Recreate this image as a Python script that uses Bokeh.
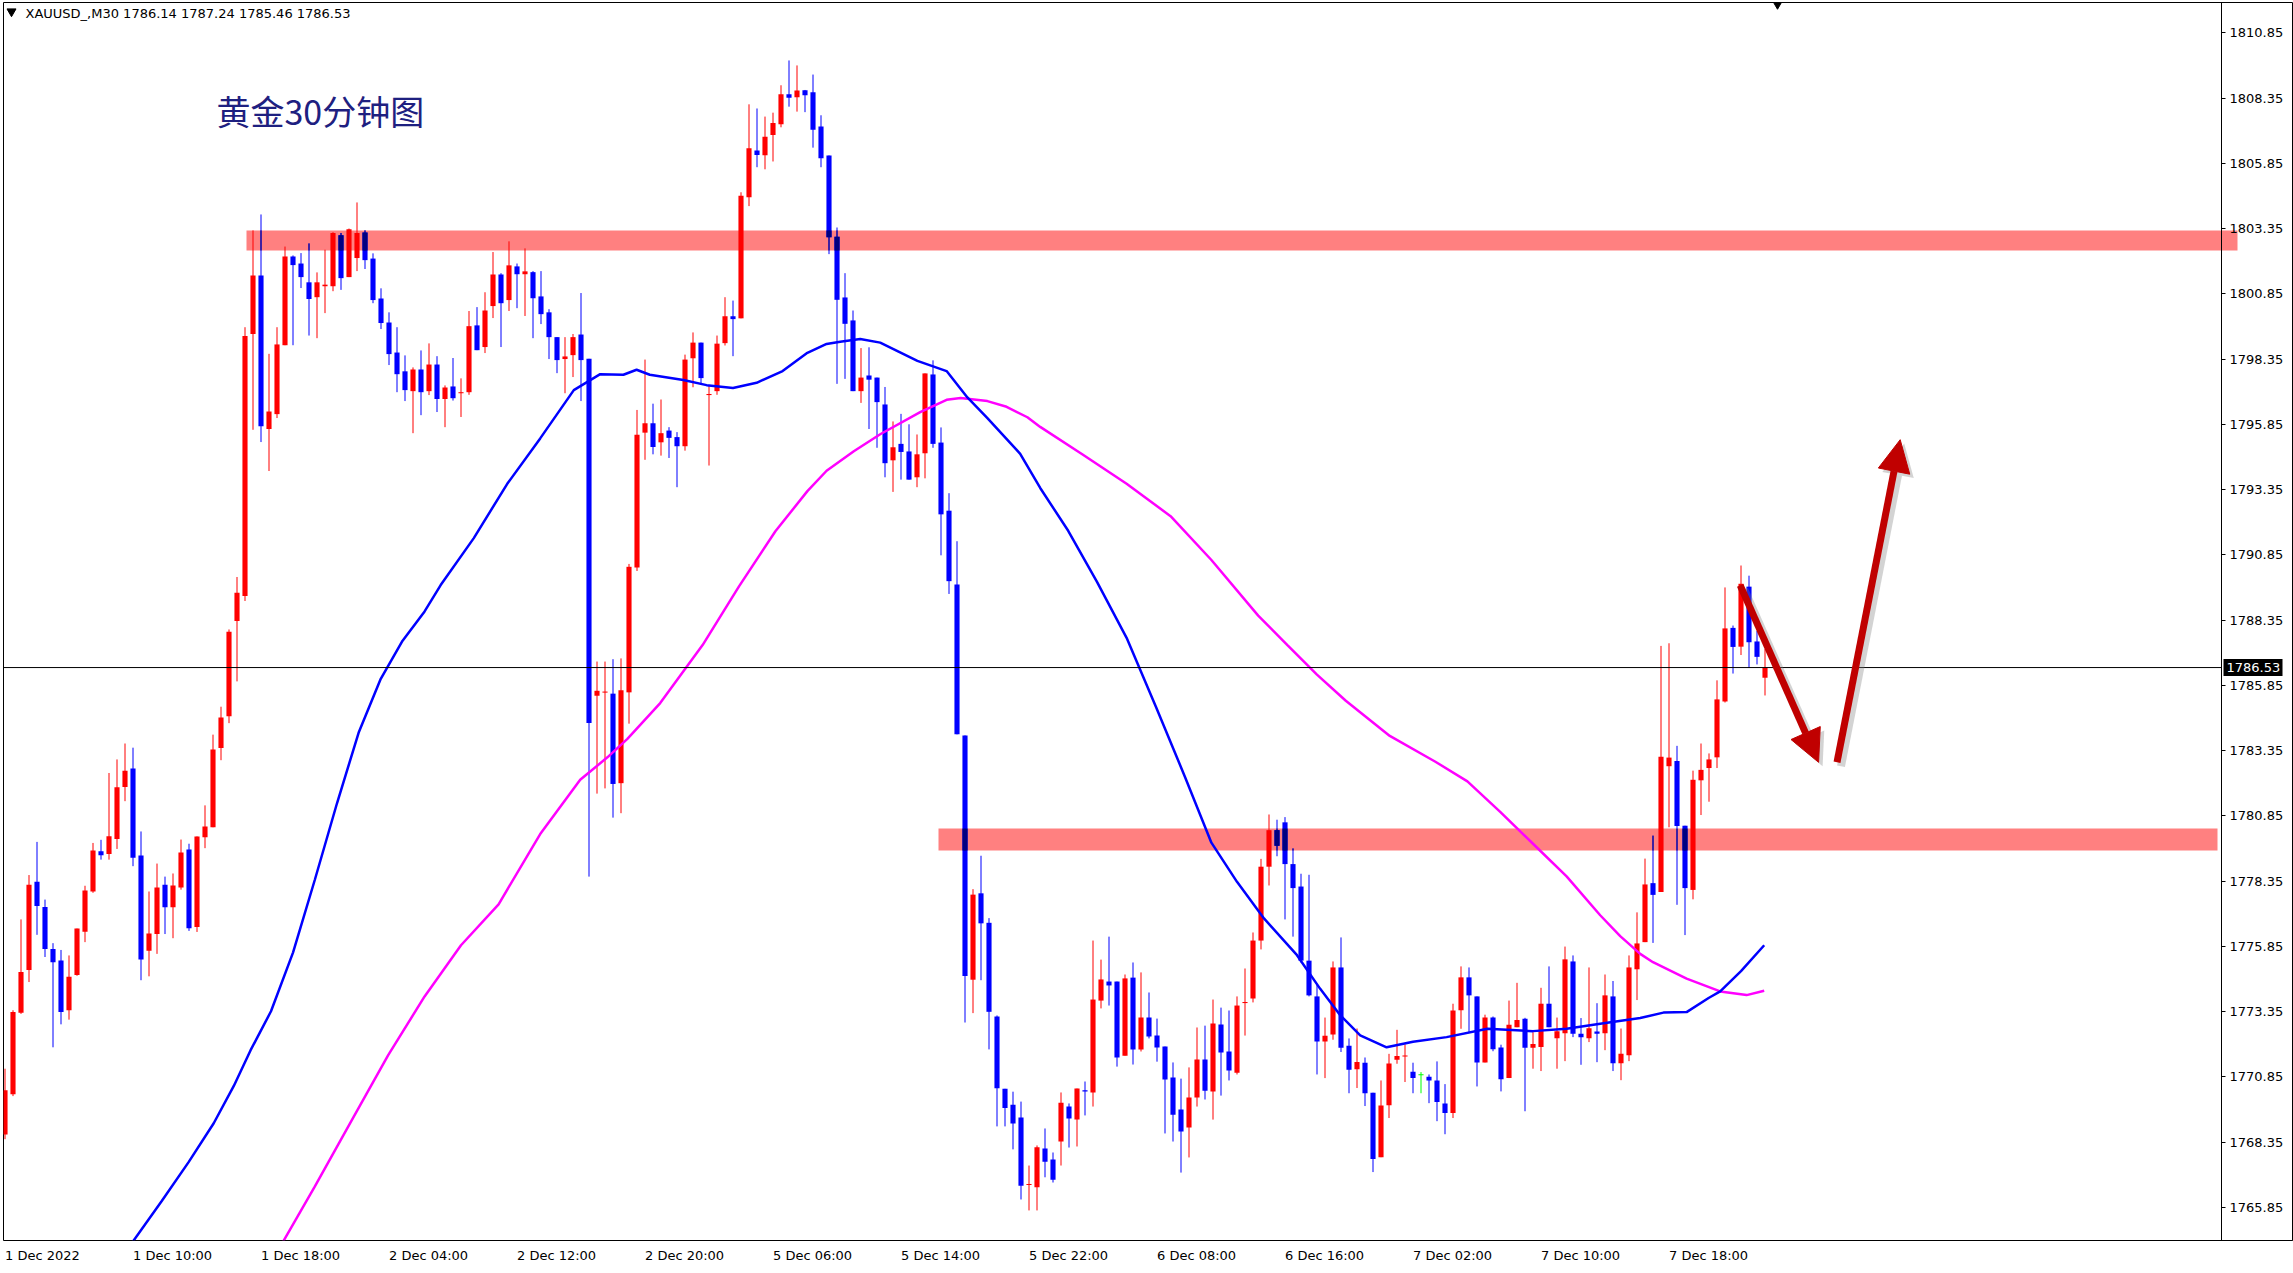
from bokeh.plotting import figure
from bokeh.models import (Range1d, FixedTicker, PrintfTickFormatter, Label, Arrow, NormalHead,
                          LinearAxis)
from bokeh.core.properties import value
from bokeh.embed import file_html
from bokeh.resources import INLINE

# ---------------- data ----------------
opens = [1768.64,1770.18,1773.30,1774.94,1778.32,1777.36,1775.75,1775.31,1773.40,1774.75,
         1776.41,1777.95,1779.49,1779.39,1779.96,1781.95,1782.66,1779.33,1775.68,1776.32,
         1778.21,1777.35,1778.10,1779.56,1776.59,1780.03,1780.41,1783.45,1784.66,1788.31,
         1789.27,1799.31,1801.55,1795.67,1796.24,1798.88,1802.28,1802.01,1801.29,1800.72,
         1801.14,1801.14,1803.09,1801.49,1802.22,1803.20,1802.20,1800.67,1799.75,1798.60,
         1797.88,1797.12,1797.95,1797.12,1798.14,1796.82,1797.30,1797.04,1797.08,1799.64,
         1798.81,1800.38,1801.59,1800.61,1801.90,1801.60,1801.68,1800.75,1800.14,1799.19,
         1798.35,1798.50,1799.29,1798.36,1785.45,1785.58,1785.53,1782.10,1785.58,1790.36,
         1795.53,1795.89,1795.16,1795.61,1795.36,1795.01,1798.38,1798.98,1796.98,1797.12,
         1798.96,1799.99,1799.91,1804.55,1806.34,1806.16,1806.93,1807.35,1808.50,1808.38,
         1808.65,1808.57,1807.26,1806.15,1803.04,1800.71,1799.83,1797.12,1797.72,1797.64,
         1796.61,1794.47,1795.10,1794.81,1793.82,1794.74,1797.76,1795.15,1792.54,1789.71,
         1783.93,1774.57,1777.88,1776.75,1773.16,1770.39,1769.78,1769.29,1766.71,1766.62,
         1768.10,1767.68,1768.37,1769.71,1769.21,1770.32,1770.25,1773.77,1774.50,1774.50,
         1771.66,1774.65,1771.90,1773.12,1772.43,1772.01,1770.82,1769.60,1768.91,1770.06,
         1771.51,1770.29,1772.85,1771.82,1771.01,1773.68,1773.85,1776.07,1778.90,1780.30,
         1780.60,1779.00,1778.14,1775.30,1773.93,1772.20,1772.47,1775.04,1772.04,1771.14,
         1771.39,1770.24,1767.77,1769.76,1771.50,1771.64,1771.04,1770.93,1770.85,1770.71,
         1769.83,1769.46,1773.40,1774.66,1773.93,1771.40,1773.12,1771.97,1770.80,1772.75,
         1773.07,1771.96,1771.99,1773.65,1772.33,1772.52,1775.27,1772.50,1772.33,1772.59,
         1772.52,1773.93,1771.37,1771.68,1774.97,1776.01,1778.27,1777.93,1782.75,1782.95,
         1780.47,1778.01,1782.21,1782.68,1783.09,1785.23,1788.05,1787.33,1789.63,1787.53,
         1786.14]
highs = [1771.16,1773.40,1776.88,1778.58,1779.85,1777.64,1775.97,1775.71,1775.50,1776.53,
         1778.17,1779.81,1779.93,1782.49,1783.01,1783.62,1783.46,1780.25,1777.95,1779.02,
         1778.52,1778.64,1779.94,1779.78,1780.06,1781.25,1783.96,1785.03,1787.99,1790.00,
         1799.57,1803.28,1803.89,1798.55,1799.57,1802.66,1802.32,1802.41,1802.78,1801.67,
         1802.54,1803.21,1803.18,1803.35,1804.35,1803.28,1802.40,1801.06,1800.14,1799.57,
         1798.49,1798.03,1798.68,1798.95,1798.46,1797.34,1798.39,1797.61,1800.19,1800.34,
         1800.91,1802.45,1801.64,1802.86,1802.01,1802.59,1801.72,1801.72,1800.26,1799.19,
         1799.19,1799.31,1800.88,1798.36,1786.76,1786.76,1786.85,1786.88,1790.50,1796.40,
         1798.33,1796.64,1796.80,1795.74,1795.55,1798.52,1799.37,1798.98,1797.33,1799.25,
         1800.72,1800.59,1804.74,1808.11,1807.95,1807.64,1807.79,1808.84,1809.79,1809.60,
         1808.66,1809.25,1807.69,1806.15,1803.39,1801.64,1800.21,1798.77,1798.80,1797.64,
         1797.28,1795.96,1796.25,1795.85,1795.46,1797.80,1798.30,1795.73,1793.21,1791.37,
         1783.93,1778.04,1779.32,1776.93,1773.20,1770.39,1770.28,1769.90,1767.45,1768.22,
         1768.87,1767.95,1770.25,1769.83,1770.40,1770.67,1776.07,1775.34,1776.22,1774.50,
         1774.77,1775.23,1774.85,1774.08,1773.08,1772.01,1771.40,1770.78,1771.21,1772.74,
         1772.81,1773.81,1773.50,1773.39,1773.93,1775.00,1776.38,1779.20,1780.90,1780.70,
         1780.80,1779.60,1778.63,1778.59,1774.39,1773.12,1775.27,1776.19,1772.32,1772.70,
         1771.59,1770.24,1770.71,1771.73,1772.65,1772.09,1771.39,1771.03,1770.94,1771.44,
         1770.57,1773.65,1775.08,1775.04,1773.93,1773.23,1773.16,1772.08,1773.77,1774.45,
         1773.11,1772.56,1774.26,1775.08,1773.12,1775.84,1775.50,1773.10,1775.04,1773.67,
         1774.77,1774.52,1772.70,1775.50,1777.15,1779.21,1780.09,1787.36,1787.46,1783.53,
         1780.47,1782.58,1783.62,1783.24,1786.04,1789.60,1788.14,1790.44,1790.05,1787.93,
         1787.24]
lows = [1768.46,1770.11,1773.26,1774.48,1776.29,1775.44,1771.98,1772.86,1773.04,1774.72,
        1776.01,1777.90,1779.17,1779.17,1779.58,1781.41,1778.92,1774.55,1774.70,1775.56,
        1776.32,1776.16,1778.02,1776.44,1776.40,1779.61,1780.41,1782.98,1784.40,1786.00,
        1789.08,1795.64,1795.17,1794.06,1796.09,1798.88,1798.88,1801.07,1799.25,1799.15,
        1800.11,1800.95,1801.00,1801.49,1801.72,1801.80,1800.49,1799.50,1798.12,1797.08,
        1796.74,1795.51,1796.20,1796.97,1796.32,1795.74,1796.76,1796.13,1796.98,1798.69,
        1798.58,1799.92,1798.81,1800.19,1800.30,1800.00,1799.15,1799.69,1798.35,1797.81,
        1797.04,1797.66,1796.74,1778.52,1781.70,1781.90,1780.78,1780.95,1784.38,1790.23,
        1794.49,1794.70,1794.65,1794.56,1793.44,1794.84,1797.27,1797.40,1794.27,1796.98,
        1798.87,1798.46,1799.91,1804.21,1805.70,1805.62,1805.92,1807.23,1808.02,1807.83,
        1807.81,1806.45,1805.70,1802.37,1797.40,1797.59,1797.12,1796.67,1795.67,1794.95,
        1793.82,1793.26,1793.73,1793.73,1793.44,1793.78,1794.95,1790.83,1789.35,1783.97,
        1772.93,1773.29,1774.55,1771.90,1768.95,1768.95,1768.07,1766.15,1765.73,1765.73,
        1767.00,1766.80,1767.45,1768.14,1768.18,1769.37,1769.71,1773.47,1773.58,1771.24,
        1771.66,1771.32,1771.82,1772.32,1771.43,1768.68,1768.37,1767.18,1767.76,1769.71,
        1769.98,1769.21,1770.13,1770.71,1770.94,1772.43,1773.70,1775.73,1778.18,1779.30,
        1776.88,1776.22,1775.23,1773.93,1770.94,1770.80,1772.27,1771.80,1770.22,1770.42,
        1769.73,1767.20,1767.77,1769.27,1771.35,1770.65,1770.22,1770.22,1769.84,1769.15,
        1768.65,1769.27,1772.69,1772.56,1770.48,1771.40,1771.83,1770.29,1770.80,1772.75,
        1769.53,1771.16,1771.07,1772.75,1771.16,1771.45,1772.37,1771.31,1772.18,1771.41,
        1771.87,1771.07,1770.72,1771.45,1773.79,1776.01,1775.98,1777.93,1780.41,1777.44,
        1776.28,1777.65,1780.88,1781.39,1782.68,1785.19,1786.30,1787.01,1786.51,1786.65,
        1785.46]
closes = [1770.33,1773.33,1774.87,1778.21,1777.39,1775.75,1775.24,1773.33,1774.68,1776.53,
          1777.99,1779.52,1779.34,1780.07,1781.94,1782.58,1779.24,1775.34,1776.34,1778.10,
          1777.35,1778.18,1779.44,1776.54,1780.06,1780.44,1783.39,1784.62,1787.90,1789.40,
          1799.23,1801.55,1795.78,1796.34,1798.91,1802.28,1801.95,1801.49,1800.65,1801.29,
          1801.20,1803.18,1801.45,1803.32,1803.18,1802.14,1800.61,1799.73,1798.54,1797.77,
          1797.16,1797.95,1797.08,1798.14,1796.82,1797.26,1796.85,1797.08,1799.61,1798.69,
          1800.21,1801.59,1800.49,1801.94,1801.60,1801.71,1800.68,1800.07,1799.19,1798.31,
          1798.45,1799.19,1798.31,1784.41,1785.64,1785.60,1782.07,1785.66,1790.39,1795.45,
          1795.89,1794.98,1795.51,1795.33,1795.01,1798.33,1798.98,1797.62,1797.00,1798.94,
          1799.99,1799.88,1804.61,1806.43,1806.17,1806.87,1807.39,1808.50,1808.36,1808.64,
          1808.46,1807.14,1806.04,1803.02,1800.62,1799.70,1797.12,1797.64,1797.56,1796.70,
          1794.36,1794.97,1794.79,1793.73,1794.70,1797.80,1795.10,1792.40,1789.84,1783.97,
          1774.71,1777.83,1776.73,1773.34,1770.41,1769.65,1769.06,1766.68,1766.73,1768.15,
          1767.60,1766.91,1769.86,1769.25,1770.40,1770.30,1773.81,1774.58,1774.35,1771.59,
          1774.62,1771.90,1773.12,1772.39,1771.97,1770.75,1769.40,1768.75,1770.06,1771.51,
          1770.32,1772.89,1771.78,1771.09,1773.58,1773.71,1776.07,1778.90,1780.30,1779.70,
          1779.00,1778.08,1775.30,1773.97,1772.20,1772.42,1775.04,1771.96,1771.12,1771.42,
          1770.22,1767.70,1769.75,1771.36,1771.65,1771.66,1770.80,1770.93,1770.71,1769.88,
          1769.46,1773.39,1774.66,1773.97,1771.40,1773.12,1771.91,1770.76,1772.84,1773.03,
          1771.96,1772.11,1773.65,1772.75,1772.60,1775.35,1772.50,1772.37,1772.71,1772.50,
          1773.97,1771.37,1771.73,1775.04,1775.96,1778.22,1777.82,1783.11,1783.08,1780.46,
          1778.08,1782.23,1782.61,1783.01,1785.31,1788.03,1787.32,1789.74,1787.50,1786.94,
          1786.53]

# moving averages (bar position, price)
ma_fast_bar = [14.1,15.9,19.55,22.95,26.09,28.6,30.7,33.25,36.0,38.74,41.5,44.2,46.97,49.7,52.45,
               54.46,58.6,62.78,66.9,71.1,74.4,77.3,78.95,80.6,84.8,87.7,91.0,93.95,97.2,100.3,
               102.7,104.4,106.9,109.4,114.05,117.7,120.3,122.8,126.9,129.4,132.9,136.5,140.2,
               143.85,147.5,150.8,154.0,157.4,161.5,164.4,166.9,169.4,172.7,176.0,180.2,185.3,
               191.0,195.2,199.4,204.4,207.3,210.2,212.95,214.4,217.0,219.9]
ma_fast_val = [1763.20,1764.50,1766.07,1767.58,1769.07,1770.50,1771.87,1773.36,1775.61,1778.41,
               1781.33,1784.03,1786.10,1787.56,1788.68,1789.69,1791.49,1793.57,1795.31,1797.16,
               1797.77,1797.75,1797.94,1797.75,1797.55,1797.35,1797.24,1797.44,1797.89,1798.59,
               1798.93,1799.01,1799.12,1798.98,1798.28,1797.89,1796.88,1796.09,1794.72,1793.41,
               1791.77,1789.81,1787.67,1785.04,1782.34,1779.82,1778.32,1776.91,1775.51,1774.22,
               1773.21,1772.44,1771.98,1772.19,1772.37,1772.69,1772.60,1772.69,1772.88,1773.10,
               1773.31,1773.33,1773.87,1774.12,1774.90,1775.89]
ma_slow_bar = [32.3,34.7,38.7,43.3,47.9,52.45,57.0,61.7,66.9,71.9,75.3,77.8,81.9,87.2,91.75,96.3,
               100.3,102.7,106.1,109.4,114.4,117.7,119.45,122.8,125.2,127.8,129.4,134.7,140.2,
               145.7,150.8,156.65,160.3,163.96,167.6,173.1,178.8,182.8,186.9,191.0,195.2,199.4,
               201.9,204.4,206.0,210.2,214.4,217.7,219.9]
ma_slow_val = [1763.26,1764.50,1766.63,1769.16,1771.68,1773.93,1775.89,1777.46,1780.15,1782.23,
               1783.09,1783.80,1785.17,1787.39,1789.64,1791.75,1793.29,1794.07,1794.82,1795.47,
               1796.32,1796.79,1796.86,1796.74,1796.52,1796.12,1795.75,1794.69,1793.57,1792.33,
               1790.65,1788.52,1787.39,1786.27,1785.26,1783.91,1782.92,1782.17,1781.00,1779.78,
               1778.53,1777.04,1776.24,1775.56,1775.24,1774.61,1774.12,1773.98,1774.15]

time_label_bars = [0, 16, 32, 48, 64, 80, 96, 112, 128, 144, 160, 176, 192, 208]
time_labels = ["1 Dec 2022", "1 Dec 10:00", "1 Dec 18:00", "2 Dec 04:00", "2 Dec 12:00",
               "2 Dec 20:00", "5 Dec 06:00", "5 Dec 14:00", "5 Dec 22:00", "6 Dec 08:00",
               "6 Dec 16:00", "7 Dec 02:00", "7 Dec 10:00", "7 Dec 18:00"]
price_ticks = [1810.85, 1808.35, 1805.85, 1803.35, 1800.85, 1798.35, 1795.85, 1793.35,
               1790.85, 1788.35, 1785.85, 1783.35, 1780.85, 1778.35, 1775.85, 1773.35,
               1770.85, 1768.35, 1765.85]

header_text = "XAUUSD_,M30  1786.14 1787.24 1785.46 1786.53"
title_text = "黄金30分钟图"
last_price = 1786.53
upper_zone = (1802.51, 1803.28)
lower_zone = (1779.52, 1780.36)
# projected path: (bar, price) pairs
path_down = ((216.9, 1789.68), (226.7, 1782.90))
path_up = ((229.0, 1782.90), (236.9, 1795.26))

# ---------------- layout / styling ----------------
RED = "#FF0000"
BLUE = "#0000FF"
GREEN = "#00FF00"
NAVY = "#000080"
ZONE = "#FF8080"
ARROW = "#C00000"
FONT = "DejaVu Sans"
FONT_PX = 13

PX = 8.0                      # pixels per bar
X0 = -0.1875                  # left edge of frame (bar units)
FRAME_W = 2290
X1 = X0 + FRAME_W / PX
AXIS_X = X0 + 2218 / PX       # price axis position
Y1 = 1812.011
FRAME_H = 1238
Y0 = Y1 - FRAME_H / 26.1

p = figure(frame_width=FRAME_W, frame_height=FRAME_H,
           x_range=Range1d(X0, X1), y_range=Range1d(Y0, Y1),
           output_backend="svg", toolbar_location=None, y_axis_location="right",
           min_border_left=3, min_border_top=2, min_border_bottom=0, min_border_right=0,
           background_fill_color="white", border_fill_color="white")
p.grid.visible = False
p.outline_line_color = "black"
p.outline_line_width = 1

# zones (drawn under the candles)
UZ_L, UZ_R = X0 + 243 / PX, X0 + 2234 / PX
LZ_L, LZ_R = X0 + 935 / PX, X0 + 2214 / PX
p.quad(left=[UZ_L], right=[UZ_R], bottom=[upper_zone[0]], top=[upper_zone[1]],
       fill_color=ZONE, line_color=None)
p.quad(left=[LZ_L], right=[LZ_R], bottom=[lower_zone[0]], top=[lower_zone[1]],
       fill_color=ZONE, line_color=None)

# candles
idx = list(range(len(opens)))
colors, btop, bbot = [], [], []
for o, c in zip(opens, closes):
    colors.append(RED if c > o else (BLUE if c < o else GREEN))
    t, b = max(o, c), min(o, c)
    if t - b < 0.04:
        m = (t + b) / 2
        t, b = m + 0.02, m - 0.02
    btop.append(t)
    bbot.append(b)

p.segment(x0=idx, y0=lows, x1=idx, y1=highs, line_color=colors, line_width=1)
p.quad(left=[i - 0.32 for i in idx], right=[i + 0.32 for i in idx], top=btop, bottom=bbot,
       fill_color=colors, line_color=None)

# blue candle parts seen through the zones look navy (multiply blend)
ov_x, ov_l, ov_h, ov_b = [], [], [], []
for i in idx:
    if colors[i] != BLUE:
        continue
    for (zb, zt), zl in ((upper_zone, UZ_L), (lower_zone, LZ_L)):
        if i < zl:
            continue
        lo, hi = max(lows[i], zb), min(highs[i], zt)
        if hi > lo:
            ov_x.append(i); ov_l.append(lo); ov_h.append(hi)
            blo, bhi = max(bbot[i], zb), min(btop[i], zt)
            if bhi > blo:
                ov_b.append((i, blo, bhi))
p.segment(x0=ov_x, y0=ov_l, x1=ov_x, y1=ov_h, line_color=NAVY, line_width=1)
p.quad(left=[t[0] - 0.32 for t in ov_b], right=[t[0] + 0.32 for t in ov_b],
       bottom=[t[1] for t in ov_b], top=[t[2] for t in ov_b], fill_color=NAVY, line_color=None)

# moving averages
p.line(ma_slow_bar, ma_slow_val, line_color="#FF00FF", line_width=2.5)
p.line(ma_fast_bar, ma_fast_val, line_color="#0000FF", line_width=2.5)

# current price line (up to the price axis) and its tag
p.segment(x0=[X0], y0=[last_price], x1=[AXIS_X], y1=[last_price], line_color="black", line_width=1)
p.quad(left=[AXIS_X + 2 / PX], right=[AXIS_X + 61 / PX],
       bottom=[last_price - 8.5 / 26.1], top=[last_price + 8.5 / 26.1],
       fill_color="black", line_color=None)
p.text(x=[AXIS_X + 5 / PX], y=[last_price], text=[f"{last_price:.2f}"], text_font=value(FONT),
       text_font_size=value(f"{FONT_PX}px"), text_color="white", text_baseline="middle",
       text_align="left")

# arrows (shadow then arrow)
for (s, e) in (path_down, path_up):
    p.add_layout(Arrow(end=NormalHead(size=32, fill_color="#808080", fill_alpha=0.35,
                                      line_color=None),
                       x_start=s[0] + 0.5, y_start=s[1] - 0.15, x_end=e[0] + 0.5, y_end=e[1] - 0.15,
                       line_color="#808080", line_alpha=0.35, line_width=8))
    p.add_layout(Arrow(end=NormalHead(size=32, fill_color=ARROW, line_color=ARROW, line_width=1),
                       x_start=s[0], y_start=s[1], x_end=e[0], y_end=e[1],
                       line_color=ARROW, line_width=7))

# header, markers and title
p.scatter(x=[X0 + 8 / PX], y=[Y1 - 9 / 26.1], marker="inverted_triangle", size=9, color="black")
p.scatter(x=[X0 + 1774 / PX], y=[Y1 - 1 / 26.1], marker="inverted_triangle", size=10, color="black")
p.add_layout(Label(x=X0 + 22 / PX, y=Y1 - 10.7 / 26.1, text=header_text, text_font=FONT,
                   text_font_size=f"{FONT_PX}px", text_color="black", text_baseline="middle",
                   text_align="left"))
p.add_layout(Label(x=X0 + 213 / PX, y=Y1 - 108 / 26.1, text=title_text, text_font="Noto Sans CJK SC",
                   text_font_size="34px", text_color="#1E2080", text_baseline="middle",
                   text_align="left"))

# ---------------- axes ----------------
ya = p.yaxis[0]
ya.fixed_location = AXIS_X
ya.ticker = FixedTicker(ticks=price_ticks)
ya.formatter = PrintfTickFormatter(format="%.2f")
ya.major_tick_out = 4
ya.major_tick_in = 0
ya.minor_tick_line_color = None
ya.major_label_standoff = 4
ya.major_label_text_font = FONT
ya.major_label_text_font_size = f"{FONT_PX}px"
ya.major_label_text_color = "black"
ya.axis_line_color = "black"

# time axis: line + tick marks at the bars (no labels)
xa = p.xaxis[0]
xa.fixed_location = Y0
xa.ticker = FixedTicker(ticks=time_label_bars)
xa.major_label_overrides = {b: "" for b in time_label_bars}
xa.major_label_text_font_size = "0px"
xa.major_tick_out = 4
xa.major_tick_in = 0
xa.minor_tick_line_color = None
xa.axis_line_color = "black"

# labels that start at their tick (MetaTrader style): centre each label half its width right
DEJAVU_W = {" ": 0.318, ":": 0.337, "D": 0.770, "e": 0.615, "c": 0.550}
def text_px(s):
    return sum(DEJAVU_W.get(ch, 0.636) for ch in s) * FONT_PX

label_pos = [round(b + text_px(t) / 2 / PX, 3) for b, t in zip(time_label_bars, time_labels)]
xl = LinearAxis(ticker=FixedTicker(ticks=label_pos),
                major_label_overrides={pos: t for pos, t in zip(label_pos, time_labels)},
                axis_line_color=None, major_tick_line_color=None, minor_tick_line_color=None,
                major_tick_out=4, major_tick_in=0, major_label_standoff=3,
                major_label_text_font=FONT, major_label_text_font_size=f"{FONT_PX}px",
                major_label_text_color="black")
p.add_layout(xl, "below")

open("out.html", "w").write(file_html(p, INLINE))
